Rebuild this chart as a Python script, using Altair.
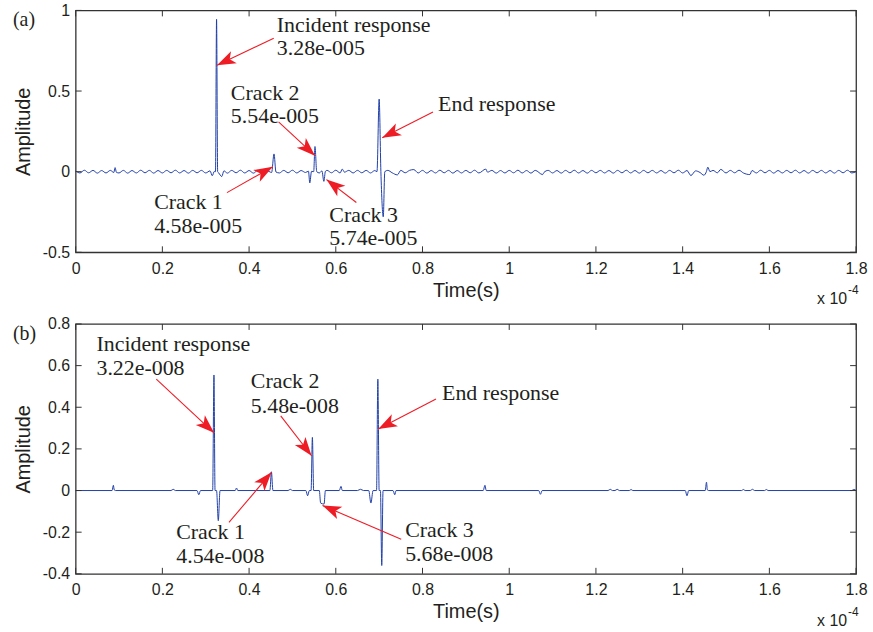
import math
import altair as alt
import pandas as pd

# ---------------- data (time in units of 1e-4 s) ----------------
TIME_A = [
    0.00, 0.01, 0.02, 0.03, 0.04, 0.05, 0.06, 0.07, 0.08, 0.088,
    0.091, 0.094, 0.10, 0.11, 0.12, 0.13, 0.14, 0.15, 0.16, 0.17,
    0.18, 0.19, 0.20, 0.21, 0.22, 0.23, 0.24, 0.25, 0.26, 0.27,
    0.28, 0.29, 0.30, 0.31, 0.315, 0.32, 0.3225, 0.325, 0.3275, 0.33,
    0.337, 0.342, 0.35, 0.36, 0.37, 0.38, 0.39, 0.40, 0.41, 0.42,
    0.43, 0.44, 0.452, 0.4575, 0.462, 0.47, 0.48, 0.49, 0.50, 0.51,
    0.52, 0.53, 0.537, 0.540, 0.544, 0.549, 0.552, 0.556, 0.562, 0.568,
    0.5725, 0.576, 0.58, 0.59, 0.60, 0.61, 0.615, 0.62, 0.63, 0.64,
    0.65, 0.66, 0.67, 0.68, 0.69, 0.695, 0.700, 0.704, 0.7095, 0.713,
    0.72, 0.73, 0.742, 0.75, 0.76, 0.77, 0.78, 0.79, 0.80, 0.81,
    0.82, 0.83, 0.84, 0.85, 0.86, 0.87, 0.88, 0.89, 0.90, 0.91,
    0.92, 0.93, 0.946, 0.95, 0.96, 0.97, 0.98, 0.99, 1.00, 1.01,
    1.02, 1.03, 1.04, 1.05, 1.06, 1.077, 1.08, 1.09, 1.10, 1.11,
    1.12, 1.13, 1.14, 1.15, 1.16, 1.17, 1.18, 1.19, 1.20, 1.21,
    1.22, 1.23, 1.24, 1.25, 1.26, 1.27, 1.28, 1.29, 1.30, 1.31,
    1.32, 1.33, 1.34, 1.35, 1.36, 1.37, 1.38, 1.39, 1.40, 1.41,
    1.419, 1.43, 1.44, 1.449, 1.455, 1.458, 1.463, 1.47, 1.48, 1.488,
    1.50, 1.51, 1.52, 1.53, 1.54, 1.555, 1.56, 1.57, 1.58, 1.59,
    1.60, 1.61, 1.62, 1.63, 1.64, 1.65, 1.66, 1.67, 1.68, 1.69,
    1.70, 1.71, 1.72, 1.73, 1.74, 1.75, 1.76, 1.77, 1.78, 1.79,
    1.80,
]
AMP_A = [
    0.005, -0.008, 0.009, -0.007, 0.008, -0.009, 0.007, -0.008, 0.008, -0.005,
    0.025, -0.004, -0.008, 0.008, -0.009, 0.007, -0.008, 0.009, -0.007, 0.008,
    -0.009, 0.007, -0.008, 0.008, -0.007, 0.009, -0.008, 0.007, -0.009, 0.008,
    -0.007, 0.008, -0.008, 0.005, -0.025, 0.002, 0.0, 0.945, 0.0, -0.008,
    -0.030, 0.005, -0.009, 0.008, -0.007, 0.009, -0.008, 0.007, -0.009, 0.008,
    -0.007, 0.008, -0.005, 0.110, -0.002, -0.008, 0.008, -0.007, 0.009, -0.008,
    0.007, -0.005, 0.003, -0.070, 0.002, 0.0, 0.156, 0.0, -0.008, 0.005,
    -0.060, 0.002, 0.008, -0.007, 0.009, -0.008, 0.016, -0.003, 0.008, -0.008,
    0.008, -0.007, 0.008, -0.008, 0.007, 0.0, 0.450, 0.0, -0.280, 0.0,
    0.008, -0.007, -0.020, 0.008, -0.007, 0.008, 0.013, -0.008, 0.008, -0.009,
    0.007, -0.008, 0.009, -0.007, 0.008, -0.009, 0.007, -0.008, 0.008, -0.007,
    0.009, -0.008, 0.016, -0.003, 0.008, -0.009, 0.007, -0.008, 0.008, -0.007,
    0.009, -0.008, 0.007, -0.009, 0.008, -0.018, -0.005, 0.008, -0.008, 0.007,
    -0.009, 0.008, -0.007, 0.009, -0.008, 0.007, -0.009, 0.008, -0.007, 0.008,
    -0.008, 0.007, -0.009, 0.008, -0.007, 0.009, -0.008, 0.007, -0.009, 0.008,
    -0.007, 0.008, -0.008, 0.007, -0.009, 0.008, -0.007, 0.009, -0.008, 0.007,
    -0.024, 0.005, -0.005, -0.022, 0.002, 0.028, 0.0, 0.008, -0.007, 0.014,
    -0.008, 0.008, -0.007, 0.009, -0.008, -0.018, 0.007, -0.008, 0.009, -0.007,
    0.008, -0.009, 0.007, -0.008, 0.008, -0.007, 0.009, -0.008, 0.007, -0.009,
    0.008, -0.007, 0.008, -0.008, 0.007, -0.009, 0.008, -0.007, 0.009, -0.008,
    0.0,
]

TIME_B = [
    0.00, 0.084, 0.087, 0.089, 0.092, 0.22, 0.225, 0.23, 0.28, 0.284,
    0.288, 0.316, 0.319, 0.3215, 0.325, 0.329, 0.333, 0.368, 0.371, 0.374,
    0.448, 0.4515, 0.455, 0.49, 0.495, 0.50, 0.531, 0.535, 0.539, 0.543,
    0.546, 0.549, 0.562, 0.565, 0.573, 0.576, 0.608, 0.612, 0.615, 0.65,
    0.657, 0.664, 0.676, 0.681, 0.686, 0.694, 0.697, 0.700, 0.703, 0.706,
    0.709, 0.732, 0.736, 0.739, 0.94, 0.944, 0.947, 1.068, 1.072, 1.076,
    1.228, 1.233, 1.238, 1.244, 1.249, 1.254, 1.277, 1.281, 1.285, 1.406,
    1.41, 1.414, 1.452, 1.455, 1.457, 1.46, 1.536, 1.54, 1.544, 1.556,
    1.561, 1.566, 1.589, 1.593, 1.597, 1.79, 1.795, 1.80,
]
AMP_B = [
    0.0, 0.0, 0.025, 0.003, 0.0, 0.0, 0.006, 0.0, 0.0, -0.020,
    0.0, 0.0, 0.555, 0.0, 0.0, -0.145, 0.0, 0.0, 0.012, 0.0,
    0.0, 0.090, 0.0, 0.0, 0.006, 0.0, 0.0, -0.025, 0.0, 0.0,
    0.255, 0.0, 0.0, -0.060, -0.065, 0.0, 0.0, 0.020, 0.0, 0.0,
    0.006, 0.0, 0.0, -0.060, 0.0, 0.0, 0.535, 0.0, 0.0, -0.360,
    0.0, 0.0, -0.020, 0.0, 0.0, 0.025, 0.0, 0.0, -0.018, 0.0,
    0.0, 0.006, 0.0, 0.0, 0.006, 0.0, 0.0, 0.005, 0.0, 0.0,
    -0.025, 0.0, 0.0, 0.040, 0.003, 0.0, 0.0, 0.005, 0.0, 0.0,
    0.006, 0.0, 0.0, 0.005, 0.0, 0.0, 0.005, 0.0,
]

XTICKS = [0, 0.2, 0.4, 0.6, 0.8, 1, 1.2, 1.4, 1.6, 1.8]
YTICKS_A = [-0.5, 0, 0.5, 1]
YTICKS_B = [-0.4, -0.2, 0, 0.2, 0.4, 0.6, 0.8]

# annotation texts (left x, baseline y in data units)
LABELS_A = ["Incident response", "3.28e-005", "Crack 2", "5.54e-005", "Crack 1",
            "4.58e-005", "Crack 3", "5.74e-005", "End response"]
LABEL_X_A = [0.464, 0.464, 0.358, 0.358, 0.181, 0.181, 0.585, 0.585, 0.836]
LABEL_Y_A = [0.864, 0.722, 0.444, 0.300, -0.230, -0.378, -0.313, -0.457, 0.378]

LABELS_B = ["Incident response", "3.22e-008", "Crack 2", "5.48e-008", "Crack 1",
            "4.54e-008", "Crack 3", "5.68e-008", "End response"]
LABEL_X_B = [0.048, 0.048, 0.404, 0.404, 0.232, 0.232, 0.760, 0.760, 0.845]
LABEL_Y_B = [0.669, 0.555, 0.494, 0.374, -0.231, -0.347, -0.223, -0.338, 0.435]

# arrows: tail -> tip (data units)
TAIL_X_A = [0.4569, 0.468, 0.349, 0.6474, 0.8242]
TAIL_Y_A = [0.827, 0.309, -0.130, -0.191, 0.370]
TIP_X_A = [0.326, 0.552, 0.4546, 0.5785, 0.7071]
TIP_Y_A = [0.660, 0.099, 0.031, -0.049, 0.210]

TAIL_X_B = [0.186, 0.473, 0.3536, 0.7508, 0.8311]
TAIL_Y_B = [0.535, 0.359, -0.153, -0.234, 0.440]
TIP_X_B = [0.3191, 0.5441, 0.4516, 0.5694, 0.6980]
TIP_Y_B = [0.277, 0.167, 0.0875, -0.0717, 0.296]

# ---------------- styling ----------------
W = 784
XMAX = 1.8
BLUE = "#2040a8"
RED = "#ee1c25"
TXT = "#231f20"
FRAME = "#333333"
ARROW_PATH = "M0,0L0.5,1.4L0,1.05L-0.5,1.4Z"
TICK_LEN = 6


def panel(tag, time, amp, ydom, yticks, H, labels, lx, ly, tx, ty, hx, hy):
    xs = alt.Scale(domain=[0, XMAX], nice=False, zero=False)
    ys = alt.Scale(domain=ydom, nice=False, zero=False)
    xax = alt.Axis(values=XTICKS, labelExpr="toString(datum.value)",
                   title="Time(s)", labelFlush=False)
    yax = alt.Axis(values=yticks, labelExpr="toString(datum.value)",
                   title="Amplitude", labelFlush=False)
    yspan = ydom[1] - ydom[0]

    def X(f):
        return alt.X(f, scale=xs, axis=xax)

    def Y(f):
        return alt.Y(f, scale=ys, axis=yax)

    sig = pd.DataFrame({"t": time, "a": amp})
    line = alt.Chart(sig).mark_line(color=BLUE, strokeWidth=1, interpolate="monotone").encode(
        x=X("t:Q"), y=Y("a:Q"), order="t:Q",
    )

    xt = pd.DataFrame({"t": XTICKS})
    yt = pd.DataFrame({"a": yticks})
    tick_style = dict(color=FRAME, strokeWidth=1)
    tb = alt.Chart(xt).mark_rule(**tick_style).encode(
        x=X("t:Q"), y=alt.value(H), y2=alt.value(H - TICK_LEN))
    tt = alt.Chart(xt).mark_rule(**tick_style).encode(
        x=X("t:Q"), y=alt.value(0), y2=alt.value(TICK_LEN))
    tl = alt.Chart(yt).mark_rule(**tick_style).encode(
        y=Y("a:Q"), x=alt.value(0), x2=alt.value(TICK_LEN))
    tr = alt.Chart(yt).mark_rule(**tick_style).encode(
        y=Y("a:Q"), x=alt.value(W), x2=alt.value(W - TICK_LEN))

    angles = []
    for a, b, c, d in zip(tx, ty, hx, hy):
        dx = (c - a) * W / XMAX
        dy = -(d - b) * H / yspan
        angles.append(math.degrees(math.atan2(dx, -dy)) % 360)
    arr = pd.DataFrame({"t": tx, "a": ty, "t2": hx, "a2": hy, "ang": angles})
    shafts = alt.Chart(arr).mark_rule(color=RED, strokeWidth=1.1).encode(
        x=X("t:Q"), y=Y("a:Q"), x2="t2:Q", y2="a2:Q")
    heads = alt.Chart(arr).mark_point(shape=ARROW_PATH, size=720, filled=True,
                                      color=RED, opacity=1, strokeWidth=0).encode(
        x=X("t2:Q"), y=Y("a2:Q"), angle=alt.Angle("ang:Q", scale=None))

    lab = pd.DataFrame({"label": labels, "t": lx, "a": ly})
    texts = alt.Chart(lab).mark_text(align="left", baseline="alphabetic",
                                     font="Liberation Serif", fontSize=22,
                                     color=TXT).encode(
        x=X("t:Q"), y=Y("a:Q"), text="label:N")

    tagc = alt.Chart(pd.DataFrame({"tag": [tag]})).mark_text(
        align="left", baseline="middle", font="Liberation Serif", fontSize=20,
        color=TXT).encode(x=alt.value(-63), y=alt.value(10), text="tag:N")
    mult = alt.Chart(pd.DataFrame({"m": ["x 10"]})).mark_text(
        align="right", baseline="alphabetic", font="Liberation Sans", fontSize=16,
        color=TXT).encode(x=alt.value(W - 9), y=alt.value(H + 52), text="m:N")
    expo = alt.Chart(pd.DataFrame({"e": ["-4"]})).mark_text(
        align="left", baseline="middle", font="Liberation Sans", fontSize=12,
        color=TXT).encode(x=alt.value(W - 8), y=alt.value(H + 38), text="e:N")

    return alt.layer(line, tb, tt, tl, tr, shafts, heads, texts, tagc, mult, expo).properties(
        width=W, height=H)


pa = panel("(a)", TIME_A, AMP_A, [-0.5, 1], YTICKS_A, 243, LABELS_A, LABEL_X_A, LABEL_Y_A,
           TAIL_X_A, TAIL_Y_A, TIP_X_A, TIP_Y_A)
pb = panel("(b)", TIME_B, AMP_B, [-0.4, 0.8], YTICKS_B, 251, LABELS_B, LABEL_X_B, LABEL_Y_B,
           TAIL_X_B, TAIL_Y_B, TIP_X_B, TIP_Y_B)

chart = alt.vconcat(pa, pb, spacing=7).properties(
    padding={"left": 12, "top": 0, "right": 5, "bottom": 5},
    background="white",
).configure_view(stroke=FRAME, strokeWidth=1.3).configure_axis(
    grid=False, domain=False, ticks=False, tickSize=0,
    labelFont="Liberation Sans", labelFontSize=16, labelColor=TXT,
    titleFont="Liberation Sans", titleFontSize=20, titleFontWeight="normal", titleColor=TXT,
).configure_axisX(labelPadding=8, titlePadding=4).configure_axisY(labelPadding=6, titlePadding=9)

chart.save("out.html", embed_options={"renderer": "svg", "actions": False})
